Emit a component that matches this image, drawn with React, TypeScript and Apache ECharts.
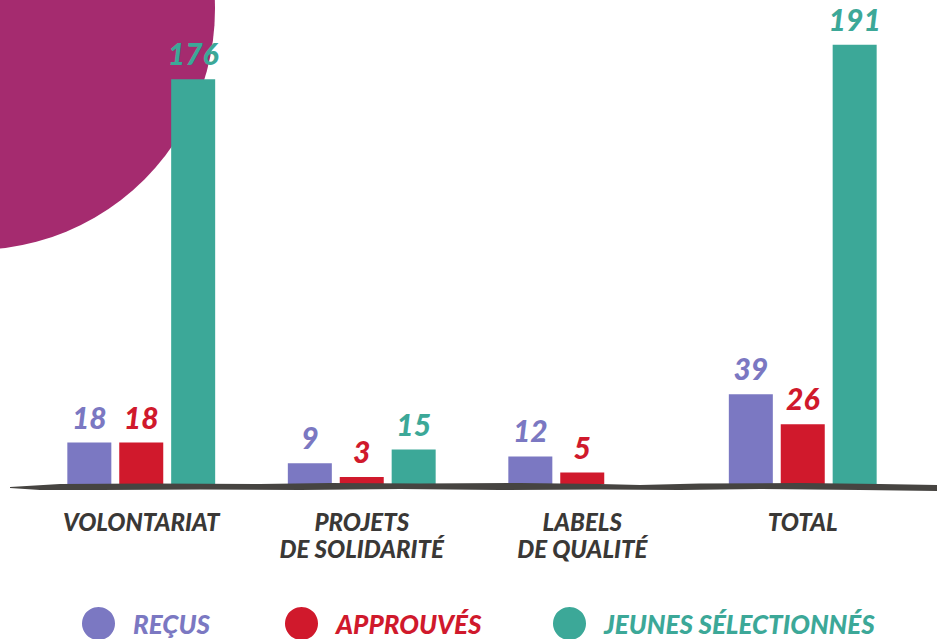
import React, { useEffect, useRef } from "react";
import * as echarts from "echarts";

const categories = ["VOLONTARIAT", "PROJETS\nDE SOLIDARITÉ", "LABELS\nDE QUALITÉ", "TOTAL"];
const seriesNames = ["REÇUS", "APPROUVÉS", "JEUNES SÉLECTIONNÉS"];
const recus = [18, 9, 12, 39];
const approuves = [18, 3, 5, 26];
const jeunes: (number | null)[] = [176, 15, null, 191];
const colors = ["#7b78c2", "#d0192c", "#3ca898"];

const FONT = "Lato";

export default function App() {
  const ref = useRef<HTMLDivElement>(null);
  useEffect(() => {
    if (!ref.current) return;
    const chart = echarts.init(ref.current, null, { renderer: "svg" });
    const data = [recus, approuves, jeunes];
    const legendLefts = [82, 285, 553];
    chart.setOption({
      animation: false,
      backgroundColor: "#ffffff",
      grid: { left: 31, right: 24, top: 24, bottom: 155 },
      xAxis: {
        type: "category",
        data: categories,
        axisLine: { show: false },
        axisTick: { show: false },
        axisLabel: {
          interval: 0,
          hideOverlap: false,
          margin: 24,
          color: "#3a3836",
          fontFamily: FONT,
          fontWeight: 900,
          fontStyle: "italic",
          fontSize: 24,
          lineHeight: 27,
        },
      },
      yAxis: {
        type: "value",
        min: 0,
        max: 200,
        show: false,
        splitLine: { show: false },
      },
      legend: seriesNames.map((n, i) => ({
        data: [n],
        left: legendLefts[i],
        top: 607,
        padding: 0,
        icon: "circle",
        itemWidth: 33,
        itemHeight: 33,
        itemGap: 0,
        textStyle: {
          color: colors[i],
          fontFamily: FONT,
          fontWeight: 900,
          fontStyle: "italic",
          fontSize: 26,
          padding: [0, 0, 0, 13],
        },
      })),
      graphic: [
        {
          type: "circle",
          z: -10,
          silent: true,
          shape: { cx: -26, cy: 9, r: 241 },
          style: { fill: "#a52b6f" },
        },
        {
          type: "polygon",
          z: 100,
          silent: true,
          shape: {
            points: [
              [10, 487], [60, 484], [150, 483.5], [260, 484], [330, 483], [420, 483.5],
              [520, 483], [600, 484], [640, 485], [700, 483.5], [800, 483], [880, 484], [937, 485],
              [937, 491], [860, 490], [760, 489], [680, 490], [600, 489.5], [500, 490],
              [400, 489], [300, 490], [200, 489.5], [100, 490], [40, 490], [10, 488],
            ],
          },
          style: { fill: "#464441" },
        },
      ],
      series: seriesNames.map((n, i) => ({
        name: n,
        type: "bar",
        data: data[i],
        barWidth: 44,
        barGap: "18%",
        itemStyle: { color: colors[i] },
        label: {
          show: true,
          position: "top",
          distance: 11,
          color: colors[i],
          fontFamily: FONT,
          fontWeight: 900,
          fontStyle: "italic",
          fontSize: 30,
        },
      })),
    });
    return () => chart.dispose();
  }, []);
  return <div ref={ref} style={{ width: 937, height: 639, position: "fixed", left: 0, top: 0 }} />;
}
